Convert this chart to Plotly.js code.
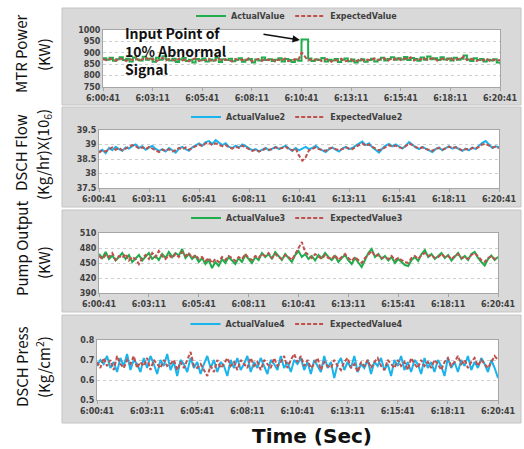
<!DOCTYPE html>
<html><head><meta charset="utf-8">
<script src="https://cdn.plot.ly/plotly-3.0.1.min.js"></script>
<style>html,body{margin:0;padding:0;background:#fff}#c{width:524px;height:449px}</style>
</head><body><div id="c"></div>
<script>
// ---- data ----
const stepSec = 10;
const tickLabels = ["6:00:41","6:03:11","6:05:41","6:08:11","6:10:41","6:13:11","6:15:41","6:18:11","6:20:41"];

const actual1 = [876,870,878,865,872,880,868,874,862,879,
871,866,883,870,875,861,878,869,885,872,
866,874,860,871,877,864,870,858,873,867,
875,862,871,866,878,860,872,868,874,863,
870,876,861,869,873,857,871,866,879,868,
872,864,870,876,862,873,868,860,871,865,
958,958,875,864,871,868,877,862,870,866,
873,860,869,875,863,871,858,866,872,861,
868,874,862,870,878,866,873,880,869,876,
871,882,868,877,873,865,879,870,884,872,
876,868,880,871,875,866,878,870,874,888,
871,864,876,868,873,862,870,866,872,858,852];
const expected1 = [872,868,875,870,866,877,871,864,873,869,
876,865,872,880,868,874,862,871,878,866,
873,869,864,875,867,871,862,870,876,864,
870,866,874,861,869,875,865,871,868,862,
873,867,870,864,876,862,869,873,865,871,
868,874,862,870,866,875,863,869,872,867,
900,884,866,872,868,875,864,870,873,861,
869,865,874,862,868,871,860,867,873,864,
870,866,875,868,872,877,864,874,870,879,
868,875,871,880,866,874,870,877,869,873,
878,866,872,875,869,880,867,873,871,884,
868,875,870,864,872,867,874,862,870,866,868];

const actual2 = [38.75,38.82,38.70,38.88,38.80,38.92,38.84,38.78,38.90,38.86,
38.95,39.00,38.88,38.94,38.82,38.90,38.96,38.85,38.78,38.84,
38.76,38.88,38.80,38.72,38.86,38.92,38.84,38.78,38.90,38.98,
39.04,38.96,39.08,39.12,39.02,39.15,39.06,38.98,39.04,38.92,
38.88,38.96,38.90,39.00,38.94,38.86,38.80,38.84,38.76,38.82,
38.88,38.80,38.86,38.92,38.84,38.90,38.96,38.86,38.78,38.88,
38.80,38.86,38.92,38.84,38.88,38.96,38.86,38.80,38.74,38.84,
38.90,38.82,38.76,38.86,38.92,38.84,38.88,38.96,39.02,39.10,
38.98,39.04,38.90,38.82,38.72,38.86,38.96,39.02,38.94,39.00,
38.92,38.86,38.96,39.08,39.00,38.90,38.84,38.92,38.86,38.80,
38.74,38.84,38.90,38.80,38.88,38.94,38.86,38.92,38.84,38.78,
38.86,38.80,38.90,38.84,38.96,39.06,39.12,38.98,38.88,38.94,38.90];
const expected2 = [38.72,38.80,38.76,38.84,38.90,38.82,38.88,38.80,38.86,38.92,
38.98,38.94,38.86,38.90,38.84,38.92,38.86,38.80,38.74,38.82,
38.78,38.84,38.76,38.80,38.88,38.84,38.90,38.82,38.88,38.94,
39.00,38.94,39.04,39.06,38.98,39.04,39.00,38.94,38.98,38.90,
38.86,38.92,38.88,38.96,38.90,38.84,38.78,38.82,38.76,38.80,
38.86,38.82,38.84,38.90,38.86,38.88,38.92,38.84,38.80,38.86,
38.62,38.44,38.56,38.80,38.86,38.90,38.84,38.82,38.78,38.86,
38.88,38.84,38.80,38.84,38.90,38.86,38.84,38.92,38.98,39.04,
38.96,39.00,38.92,38.86,38.80,38.84,38.92,38.98,38.92,38.96,
38.90,38.88,38.94,39.04,38.98,38.92,38.86,38.90,38.84,38.82,
38.78,38.86,38.88,38.82,38.86,38.92,38.88,38.90,38.86,38.80,
38.84,38.82,38.88,38.86,38.92,39.00,39.02,38.96,38.90,38.92,38.88];

const actual3 = [468,460,472,458,465,455,462,470,458,466,
452,460,466,455,463,470,458,464,456,468,
460,472,462,470,465,478,460,468,458,464,
452,460,448,456,440,452,444,458,450,462,
455,448,460,452,466,458,450,462,456,470,
462,468,458,472,464,456,468,460,452,466,
474,462,468,458,464,455,466,460,470,462,
456,464,452,460,466,455,448,460,450,442,
456,470,478,462,468,458,464,455,462,450,
458,452,446,444,456,462,454,468,476,462,
468,458,464,470,460,466,455,462,470,458,
464,456,468,472,460,452,445,458,465,456,462];
const expected3 = [464,458,466,462,470,456,464,460,468,455,
462,458,448,460,466,458,470,462,474,464,
458,466,460,468,462,472,464,470,460,466,
458,462,454,460,450,458,452,462,456,464,
460,454,462,458,468,460,456,464,460,468,
464,470,460,468,462,458,466,462,456,468,
480,492,472,466,460,468,462,458,466,460,
458,466,456,462,468,460,454,462,456,450,
460,468,474,464,466,460,462,458,464,456,
460,456,452,450,460,464,458,466,470,464,
466,460,462,468,462,464,458,464,468,460,
462,458,466,470,462,456,452,460,464,458,462];

const actual4 = [0.67,0.70,0.68,0.72,0.66,0.69,0.64,0.71,0.67,0.73,
0.65,0.70,0.68,0.64,0.71,0.66,0.72,0.68,0.63,0.70,
0.67,0.73,0.65,0.69,0.62,0.70,0.68,0.64,0.71,0.66,
0.69,0.63,0.68,0.72,0.66,0.70,0.64,0.69,0.67,0.62,
0.70,0.66,0.71,0.65,0.68,0.72,0.64,0.69,0.66,0.71,
0.67,0.63,0.70,0.68,0.65,0.72,0.66,0.69,0.64,0.70,
0.68,0.71,0.65,0.69,0.63,0.70,0.67,0.64,0.72,0.66,
0.69,0.61,0.68,0.71,0.65,0.69,0.66,0.72,0.64,0.68,
0.66,0.70,0.63,0.69,0.67,0.71,0.65,0.68,0.62,0.70,
0.67,0.72,0.65,0.69,0.64,0.70,0.68,0.63,0.71,0.66,
0.69,0.64,0.70,0.67,0.62,0.71,0.66,0.69,0.64,0.70,
0.67,0.72,0.65,0.69,0.66,0.71,0.68,0.64,0.70,0.66,0.61];
const expected4 = [0.69,0.66,0.71,0.67,0.70,0.65,0.72,0.68,0.66,0.70,
0.68,0.72,0.66,0.69,0.67,0.71,0.65,0.70,0.68,0.66,
0.70,0.67,0.68,0.70,0.65,0.69,0.66,0.70,0.74,0.67,
0.66,0.68,0.65,0.62,0.67,0.64,0.70,0.66,0.68,0.71,
0.67,0.69,0.65,0.70,0.68,0.66,0.71,0.67,0.69,0.65,
0.70,0.68,0.66,0.71,0.67,0.69,0.72,0.66,0.70,0.73,
0.69,0.72,0.67,0.70,0.66,0.68,0.71,0.65,0.69,0.67,
0.66,0.70,0.67,0.65,0.69,0.71,0.66,0.68,0.64,0.69,
0.67,0.70,0.66,0.69,0.71,0.67,0.65,0.70,0.68,0.66,
0.70,0.67,0.69,0.65,0.71,0.68,0.66,0.70,0.67,0.69,
0.66,0.70,0.68,0.65,0.69,0.71,0.67,0.69,0.72,0.68,
0.70,0.66,0.69,0.71,0.67,0.70,0.68,0.66,0.69,0.72,0.70];

const seriesNames = [["ActualValue","ExpectedValue"],["ActualValue2","ExpectedValue2"],["ActualValue3","ExpectedValue3"],["ActualValue4","ExpectedValue4"]];

// ---- layout helpers ----
const W = 524, H = 449;
const PX = x => x / W, PY = y => 1 - y / H;
const times = actual1.map((_, i) => i * stepSec);
const tickVals = tickLabels.map((_, i) => i * 150);

const GREEN = '#1fae4b', BLUE = '#19b4ec', RED = '#c0504d';
const panels = [
  {a: actual1, e: expected1, ac: GREEN, shape:'hv', box:[62,8,521,105],  plot:[103,30,500,87],  range:[750,1000], dtick:50, leg:16},
  {a: actual2, e: expected2, ac: BLUE,  shape:'linear', box:[62,107,521,207],plot:[99,130,499,188], range:[37.5,39.5], dtick:0.5, leg:117},
  {a: actual3, e: expected3, ac: GREEN, shape:'linear', box:[62,210,521,312],plot:[99,233,498,293], range:[390,510], dtick:30, leg:218},
  {a: actual4, e: expected4, ac: BLUE,  shape:'linear', box:[62,315,521,423],plot:[97,340,498,400], range:[0.5,0.8], dtick:0.1, leg:324}
];

const tickFont = {family:'DejaVu Sans', size:8, color:'#404040', weight:'bold'};
const data = [], shapes = [], layout = {
  width: W, height: H, margin:{l:0,r:0,t:0,b:0},
  paper_bgcolor:'#ffffff', plot_bgcolor:'rgba(0,0,0,0)', showlegend:true
};

panels.forEach((p, i) => {
  const n = i === 0 ? '' : String(i + 1);
  const xa = 'x' + n, ya = 'y' + n, lg = 'legend' + n;
  data.push({x: times, y: p.a, xaxis: xa, yaxis: ya, name: seriesNames[i][0], type:'scatter', mode:'lines',
    line:{color:p.ac, width:2, shape:p.shape}, legend: lg});
  data.push({x: times, y: p.e, xaxis: xa, yaxis: ya, name: seriesNames[i][1], type:'scatter', mode:'lines',
    line:{color:RED, width:2, dash:'4px,2px'}, legend: lg});
  shapes.push({type:'rect', xref:'paper', yref:'paper', layer:'below',
    x0:PX(p.box[0]), x1:PX(p.box[2]), y0:PY(p.box[3]), y1:PY(p.box[1]),
    fillcolor:'#d9d9d9', line:{color:'#c4c4c4', width:1}});
  shapes.push({type:'rect', xref:'paper', yref:'paper', layer:'below',
    x0:PX(p.plot[0]), x1:PX(p.plot[2]), y0:PY(p.plot[3]), y1:PY(p.plot[1]),
    fillcolor:'#ffffff', line:{width:0}});
  layout['xaxis' + n] = {domain:[PX(p.plot[0]), PX(p.plot[2])], anchor: ya, range:[0,1200],
    tickmode:'array', tickvals: tickVals, ticktext: tickLabels, tickfont: tickFont,
    showgrid:false, zeroline:false, showline:true, linecolor:'#a6a6a6', mirror:true,
    ticks:'outside', ticklen:3, tickcolor:'#a6a6a6', fixedrange:true};
  layout['yaxis' + n] = {domain:[PY(p.plot[3]), PY(p.plot[1])], anchor: xa, range:p.range,
    dtick:p.dtick, tick0:p.range[0], tickfont: tickFont, showgrid:true, gridcolor:'#cfcfcf', griddash:'dot',
    zeroline:false, showline:true, linecolor:'#a6a6a6', mirror:true, ticks:'', fixedrange:true};
  layout[lg] = {orientation:'h', x:PX(297), xanchor:'center', y:PY(p.leg), yanchor:'middle',
    bgcolor:'rgba(0,0,0,0)', font:{family:'DejaVu Sans', size:8, color:'#404040', weight:'bold'},
    itemwidth:30, tracegroupgap:0};
});
layout.shapes = shapes;

const titleFont = {family:'Noto Sans CJK KR', size:15, color:'#111111'};
const ann = (text, x, y, extra) => Object.assign({text, xref:'paper', yref:'paper', x:PX(x), y:PY(y),
  xanchor:'center', yanchor:'middle', showarrow:false, textangle:-90, font:titleFont}, extra || {});
layout.annotations = [
  ann('MTR Power', 21, 54), ann('(KW)', 43, 55),
  ann('DSCH Flow', 21, 153), ann('(Kg/hr)X(10<sub>6</sub>)', 43, 155),
  ann('Pump Output', 21, 249), ann('(KW)', 43, 263),
  ann('DSCH Press', 21, 367), ann('(Kg/cm<sup>2</sup>)', 43, 367),
  ann('Time (Sec)', 312, 436, {textangle:0, font:{family:'DejaVu Sans', size:20, color:'#111111', weight:'bold'}}),
  ann('Input Point of<br>10% Abnormal<br>Signal', 123, 51, {textangle:0, xanchor:'left', align:'left',
    font:{family:'Noto Sans CJK KR', size:14, color:'#111', weight:'bold'}}),
  {text:'', xref:'paper', yref:'paper', x:PX(300), y:PY(40), showarrow:true, ax:-38, ay:-6,
    arrowhead:2, arrowsize:1, arrowwidth:1.5, arrowcolor:'#111'}
];

Plotly.newPlot('c', data, layout, {staticPlot:true, displayModeBar:false});
</script></body></html>
